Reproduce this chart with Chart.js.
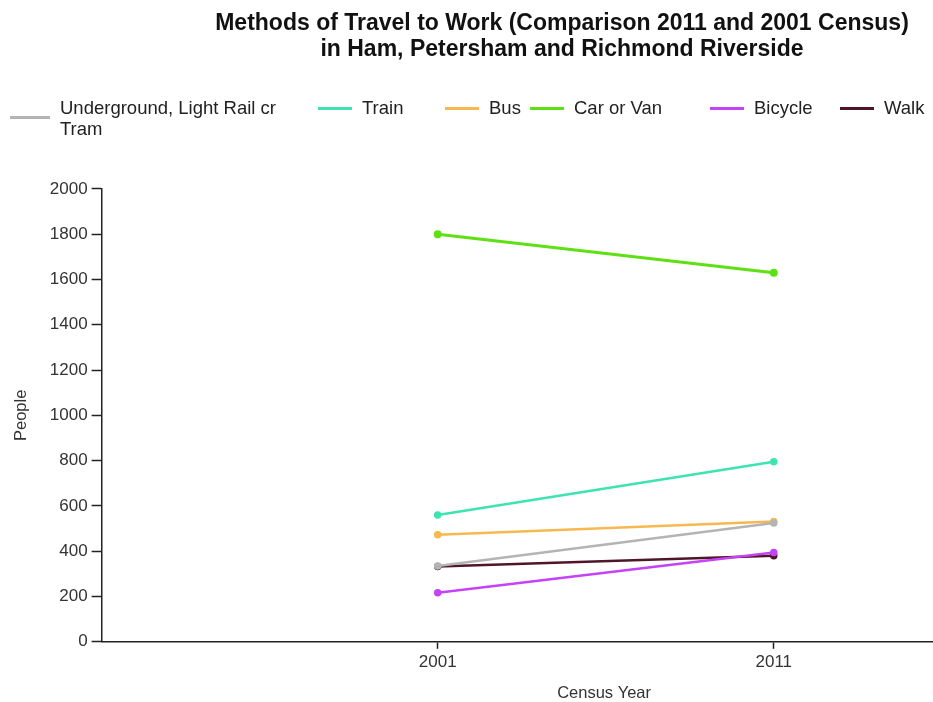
<!DOCTYPE html>
<html>
<head>
<meta charset="utf-8">
<script src="https://cdn.jsdelivr.net/npm/chart.js@4/dist/chart.umd.min.js"></script>
<style>
  body { margin: 0; overflow: hidden; background: #fff; }
  #wrap { position: relative; width: 1112px; height: 704px; }
  #legend { position: absolute; top: 0; left: 0; font-family: "Liberation Sans", Arial, sans-serif; font-size: 18.5px; color: #222; }
  .item { position: absolute; white-space: nowrap; line-height: 21px; }
  .swatch { position: absolute; height: 3px; width: 34px; }
</style>
</head>
<body>
<div id="wrap">
  <canvas id="chart"></canvas>
  <div id="legend"></div>
</div>
<script>
// census years
const years = [2001, 2011];

// people per travel method
const underground = [335, 525];
const train = [560, 795];
const bus = [473, 531];
const carOrVan = [1800, 1630];
const bicycle = [217, 394];
const walk = [332, 380];

const yTicks = [0, 200, 400, 600, 800, 1000, 1200, 1400, 1600, 1800, 2000];

const seriesNames = ['Underground, Light Rail cr Tram', 'Train', 'Bus', 'Car or Van', 'Bicycle', 'Walk'];
const seriesValues = [underground, train, bus, carOrVan, bicycle, walk];
const seriesColors = ['#b4b4b4', '#3ee3b0', '#f7b84f', '#5ee014', '#c542f7', '#4e1626'];

function points(vals) {
    return years.map((y, i) => ({x: y, y: vals[i]}));
}

const datasets = seriesNames.map((name, i) => ({
    label: name,
    data: points(seriesValues[i]),
    borderColor: seriesColors[i],
    backgroundColor: seriesColors[i],
    borderWidth: i == 3 ? 3 : 2.5,
    pointRadius: 2.5,
    pointHoverRadius: 2.5,
    tension: 0
}));

const dataChart = new Chart(
    document.getElementById('chart'),
    {
        type: 'line',
        data: { datasets: datasets },
        options: {
            responsive: true,
            maintainAspectRatio: false,
            animation: false,
            layout: { padding: { left: 12, right: 0, top: 0, bottom: 1 } },
            plugins: {
                legend: { display: false },
                tooltip: { enabled: false },
                title: {
                    display: true,
                    text: ['Methods of Travel to Work (Comparison 2011 and 2001 Census)', 'in Ham, Petersham and Richmond Riverside'],
                    color: '#111',
                    font: { family: 'Liberation Sans', size: 23, weight: 'bold', lineHeight: 1.15 },
                    padding: { top: 10, bottom: 126 }
                }
            },
            scales: {
                x: {
                    type: 'linear',
                    min: 1991,
                    max: 2020.9,
                    afterBuildTicks: (axis) => { axis.ticks = years.map(v => ({value: v})); },
                    ticks: {
                        color: '#333',
                        font: { family: 'Liberation Sans', size: 17 },
                        padding: 3,
                        callback: (v) => String(v)
                    },
                    grid: { drawOnChartArea: false, drawTicks: true, tickLength: 7, color: '#222', tickWidth: 1.5 },
                    border: { color: '#222', width: 1.5 },
                    title: {
                        display: true,
                        text: 'Census Year',
                        color: '#333',
                        font: { family: 'Liberation Sans', size: 16.5 },
                        padding: { top: 8, bottom: 0 }
                    }
                },
                y: {
                    min: 0,
                    max: 2000,
                    afterBuildTicks: (axis) => { axis.ticks = yTicks.map(v => ({value: v})); },
                    ticks: {
                        color: '#333',
                        font: { family: 'Liberation Sans', size: 17 },
                        padding: 4,
                        callback: (v) => String(v)
                    },
                    grid: { drawOnChartArea: false, drawTicks: true, tickLength: 10, color: '#222', tickWidth: 1.5 },
                    border: { color: '#222', width: 1.5 },
                    title: {
                        display: true,
                        text: 'People',
                        color: '#333',
                        font: { family: 'Liberation Sans', size: 16.5 },
                        padding: { top: 0, bottom: 14 }
                    }
                }
            }
        }
    }
);

// legend drawn as html so the first label can wrap like the original
const legendLeft = [10, 318, 445, 530, 710, 840];
const legend = document.getElementById('legend');
seriesNames.forEach((name, i) => {
    let sw = document.createElement('div');
    sw.className = 'swatch';
    sw.style.background = seriesColors[i];
    sw.style.left = legendLeft[i] + 'px';
    sw.style.top = (i == 0 ? 116 : 107) + 'px';
    sw.style.width = (i == 0 ? 40 : 34) + 'px';
    legend.appendChild(sw);

    let label = document.createElement('div');
    label.className = 'item';
    label.style.left = (legendLeft[i] + (i == 0 ? 50 : 44)) + 'px';
    label.style.top = '97px';
    if (i == 0) {
        label.innerHTML = 'Underground, Light Rail cr<br>Tram';
    } else {
        label.textContent = name;
    }
    legend.appendChild(label);
});
</script>
</body>
</html>
